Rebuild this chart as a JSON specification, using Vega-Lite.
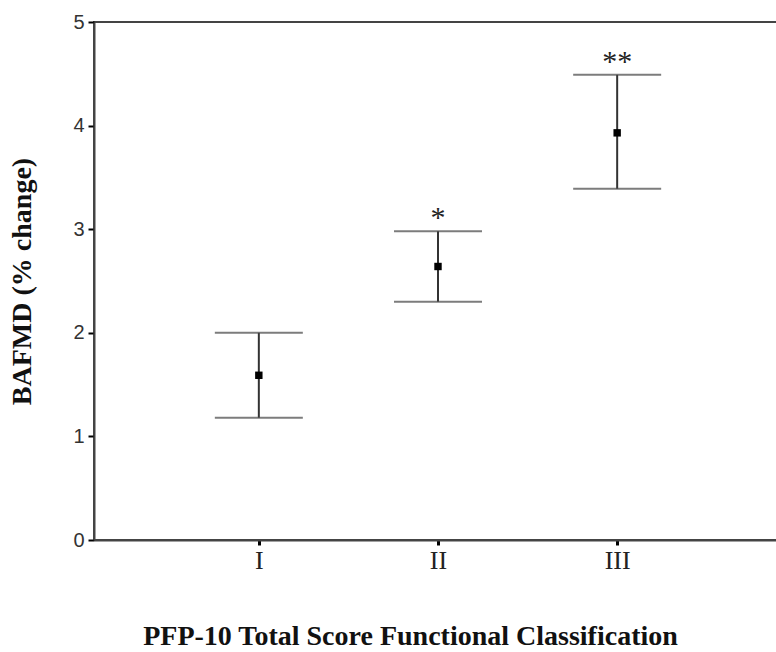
{
  "$schema": "https://vega.github.io/schema/vega-lite/v6.json",
  "width": 688,
  "height": 518,
  "autosize": "none",
  "padding": {"left": 94, "top": 22, "right": 0, "bottom": 112},
  "background": "white",
  "config": {
    "view": {"stroke": "#444", "strokeWidth": 2},
    "axisY": {
      "grid": false,
      "labelFont": "Liberation Sans",
      "labelFontSize": 20,
      "labelColor": "#333",
      "labelPadding": 4,
      "tickColor": "#000",
      "tickSize": 6,
      "tickWidth": 2,
      "domainColor": "#444",
      "domainWidth": 2,
      "titleFont": "Liberation Serif",
      "titleFontSize": 28,
      "titleFontWeight": "bold",
      "titleColor": "#111",
      "titlePadding": 36
    },
    "axisX": {
      "grid": false,
      "labelAngle": 0,
      "labelFont": "Liberation Serif",
      "labelFontSize": 26,
      "labelColor": "#222",
      "labelPadding": 2,
      "tickColor": "#000",
      "tickSize": 5,
      "tickWidth": 3,
      "domainColor": "#444",
      "domainWidth": 2,
      "titleFont": "Liberation Serif",
      "titleFontSize": 28,
      "titleFontWeight": "bold",
      "titleColor": "#111",
      "titlePadding": 49,
      "titleX": 316
    }
  },
  "data": {
    "values": [
      {"group": "I", "mean": 1.59, "lower": 1.18, "upper": 2.0, "star": ""},
      {"group": "II", "mean": 2.64, "lower": 2.3, "upper": 2.98, "star": "*"},
      {"group": "III", "mean": 3.93, "lower": 3.39, "upper": 4.49, "star": "**"}
    ]
  },
  "encoding": {
    "x": {
      "field": "group",
      "type": "ordinal",
      "sort": ["I", "II", "III"],
      "scale": {"type": "point", "padding": 0.92},
      "title": "PFP-10 Total Score Functional Classification"
    }
  },
  "layer": [
    {
      "mark": {"type": "rule", "color": "#333", "strokeWidth": 2},
      "encoding": {
        "y": {"field": "lower", "type": "quantitative", "scale": {"domain": [0, 5]}, "title": "BAFMD (% change)", "axis": {"values": [0, 1, 2, 3, 4, 5], "format": "d"}},
        "y2": {"field": "upper"}
      }
    },
    {
      "mark": {"type": "tick", "color": "#444", "size": 88, "thickness": 2},
      "encoding": {
        "y": {"field": "lower", "type": "quantitative", "scale": {"domain": [0, 5]}, "title": "BAFMD (% change)", "axis": {"values": [0, 1, 2, 3, 4, 5], "format": "d"}}
      }
    },
    {
      "mark": {"type": "tick", "color": "#444", "size": 88, "thickness": 2},
      "encoding": {
        "y": {"field": "upper", "type": "quantitative", "scale": {"domain": [0, 5]}, "title": "BAFMD (% change)", "axis": {"values": [0, 1, 2, 3, 4, 5], "format": "d"}}
      }
    },
    {
      "mark": {"type": "point", "shape": "square", "filled": true, "color": "#000", "size": 55, "opacity": 1},
      "encoding": {
        "y": {"field": "mean", "type": "quantitative", "scale": {"domain": [0, 5]}, "title": "BAFMD (% change)", "axis": {"values": [0, 1, 2, 3, 4, 5], "format": "d"}}
      }
    },
    {
      "mark": {"type": "text", "font": "Liberation Serif", "fontSize": 30, "color": "#222", "baseline": "alphabetic", "dy": -4},
      "encoding": {
        "y": {"field": "upper", "type": "quantitative", "scale": {"domain": [0, 5]}, "title": "BAFMD (% change)", "axis": {"values": [0, 1, 2, 3, 4, 5], "format": "d"}},
        "text": {"field": "star"}
      }
    }
  ]
}
